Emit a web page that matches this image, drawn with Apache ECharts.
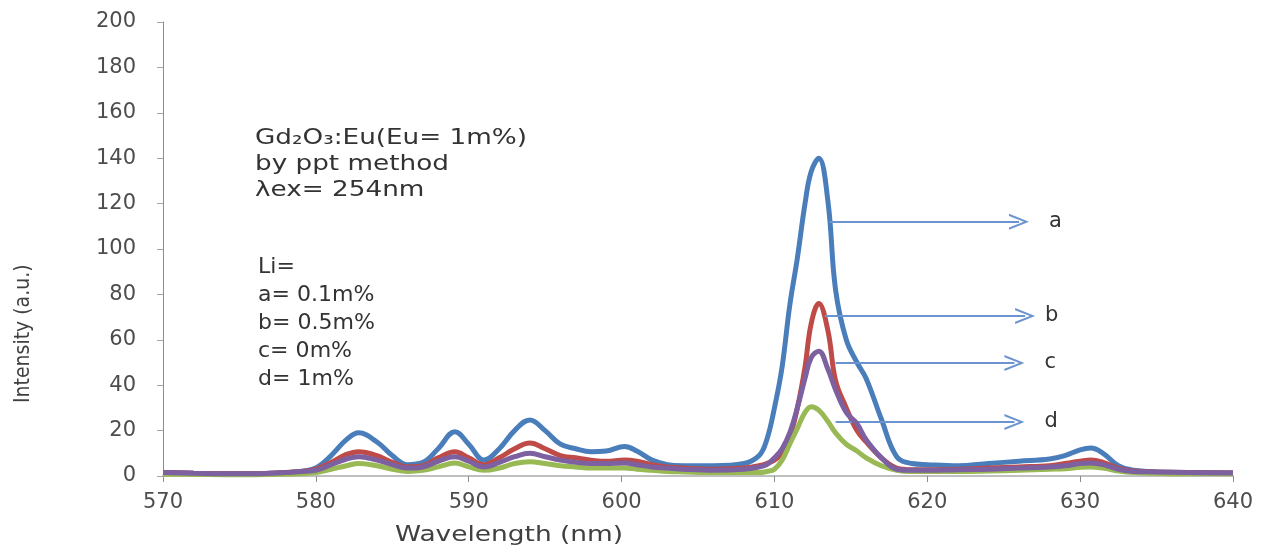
<!DOCTYPE html>
<html>
<head>
<meta charset="utf-8">
<script src="https://cdn.jsdelivr.net/npm/echarts@6/dist/echarts.min.js"></script>
<style>html,body{margin:0;padding:0;background:#fff;}#c{width:1264px;height:556px;}</style>
</head>
<body>
<div id="c"></div>
<script>
const wavelength = [570,572,574,576,578,579,580,581,582,582.8,584,585,586,587,588,589.1,590,591,592,593,594,595,596,597,598,599,600.2,601,602,603,604,606,608,609,609.5,610,610.5,611,611.5,612,612.4,612.9,613.5,614,614.7,615.4,616,617,618,619,620,622,624,626,628,629,630,630.7,631.5,632.5,633.5,635,637,640];
const seriesA = [1.5,1.2,1,1,1.5,2,3.5,9,16,19,15,9,5,6,12,19.5,14,7,12,20,24.7,20,14,12,10.7,11,13,11,7,5,4.5,4.5,5.5,9,16,30,48,75,96,120,134,140,121,82,60,50,43,25,8.5,5.5,5,4.5,5.5,6.5,7.5,9,11.5,12.3,10,4.5,2.5,1.8,1.5,1.3];
const seriesB = [1.5,1.2,1,1,1.5,2,3,6,9.5,10.7,9,6,4,4.5,8,10.7,8,5,8,12,14.5,12,9,8,7,6.5,7,6.5,5,4,3.5,3,3.5,4.5,5.5,7,10,17,30,48,67,76,64,42,30,20,15,8,3.5,2.8,2.8,3,3.5,4,4.5,5.5,6.5,7,6,3.5,2.2,1.8,1.5,1.3];
const seriesC = [1.5,1.2,1,1,1.5,2,2.5,5,7.5,8.5,7,5,3.5,4,6.5,8.5,6.5,4,6,8.5,10,8.5,7,6,5.5,5.5,5.7,5,4,3.5,3,2.5,3,4,5,8,12,19,30,43,52,55,47,38,28,23,16,8,3,2.5,2.5,2.8,3,3.5,4,4.5,5.5,5.7,5,3,2,1.8,1.5,1.3];
const seriesD = [0.8,0.7,0.6,0.6,0.8,1,1.5,3,4.5,5.5,4.5,3,2,2.5,4,5.7,4,2.5,3.5,5.5,6.3,5.5,4.5,4,3.5,3.5,3.5,3,2.5,2,1.8,1.5,1.5,1.5,2,3,7,14,21,28,30.5,29,24,19,14,11,8,4.5,2.5,2,2,2,2.2,2.5,3,3.2,3.8,4,3.5,2.2,1.5,1.2,1,1];
const xTicks = [570,580,590,600,610,620,630,640];
const yTicks = [0,20,40,60,80,100,120,140,160,180,200];
const arrowLabels = ['a','b','c','d'];
const arrowStartX = [613.6,613.3,614,614];
const arrowEndX = [626,626.4,625.7,625.7];
const arrowY = [112,70.5,49.8,23.8];
const arrowLabelGap = [30,20,30,30];

const pairs = arr => wavelength.map((w,i)=>[w,arr[i]]);
const chevron = 'path://M0,10 L5,0 L10,10 L8.6,10 L5,2.6 L1.4,10 Z';

const arrowData = arrowLabels.map((lab,i)=>[
  {coord:[arrowStartX[i],arrowY[i]], label:{formatter:lab, distance:arrowLabelGap[i]}},
  {coord:[arrowEndX[i],arrowY[i]]}
]);

function line(name, data, color, z, extra){
  return Object.assign({
    name, type:'line', data:pairs(data), smooth:0.4, showSymbol:false, symbol:'none',
    lineStyle:{color, width:5}, itemStyle:{color}, z, silent:true, animation:false
  }, extra||{});
}

const chart = echarts.init(document.getElementById('c'));
chart.setOption({
  backgroundColor:'#ffffff',
  animation:false,
  grid:{left:163,right:31,top:22,bottom:80,containLabel:false},
  xAxis:{
    type:'value', min:570, max:640, interval:10,
    axisLine:{show:true,lineStyle:{color:'#BFBFBF',width:2}},
    axisTick:{show:true,length:6,lineStyle:{color:'#8C8C8C'}},
    axisLabel:{margin:16,fontFamily:'DejaVu Sans',fontSize:21,color:'#4D4D4D',
      formatter:v=>xTicks.includes(v)?String(v):''},
    splitLine:{show:false}
  },
  yAxis:{
    type:'value', min:0, max:200, interval:20,
    axisLine:{show:true,lineStyle:{color:'#8C8C8C',width:1}},
    axisTick:{show:true,length:6,lineStyle:{color:'#A6A6A6'}},
    axisLabel:{margin:27,fontFamily:'DejaVu Sans',fontSize:21,color:'#4D4D4D',
      formatter:v=>yTicks.includes(v)?String(v):''},
    splitLine:{show:false}
  },
  graphic:[
    {type:'text',left:395,top:524,scaleX:1.2,style:{text:'Wavelength (nm)',font:'22px "DejaVu Sans"',fill:'#404040'}},
    {type:'text',x:13,y:403,rotation:Math.PI/2,style:{text:'Intensity (a.u.)',font:'21px "Liberation Sans Narrow","DejaVu Sans Condensed",sans-serif',fill:'#404040'}},
    {type:'text',left:255,top:126,scaleX:1.25,style:{
      text:'Gd\u2082O\u2083:Eu(Eu= 1m%)\nby ppt method\n\u03BBex= 254nm',font:'21px "DejaVu Sans"',fill:'#333',lineHeight:26}},
    {type:'text',left:258,top:254,scaleX:1.05,style:{text:'Li=\na= 0.1m%\nb= 0.5m%\nc= 0m%\nd= 1m%',font:'21px "DejaVu Sans"',fill:'#333',lineHeight:28}}
  ],
  series:[
    line('a', seriesA, '#4A7EBB', 2, {markLine:{
      silent:true, animation:false, symbol:['none',chevron], symbolSize:[16,20],
      lineStyle:{color:'#6A93CF',width:2,type:'solid'},
      label:{show:true,position:'end',fontFamily:'DejaVu Sans',fontSize:21,color:'#333'},
      emphasis:{disabled:true},
      data:arrowData
    }}),
    line('b', seriesB, '#BE4B48', 3),
    line('d', seriesD, '#98B954', 4),
    line('c', seriesC, '#7D60A0', 5)
  ]
});
</script>
</body>
</html>
